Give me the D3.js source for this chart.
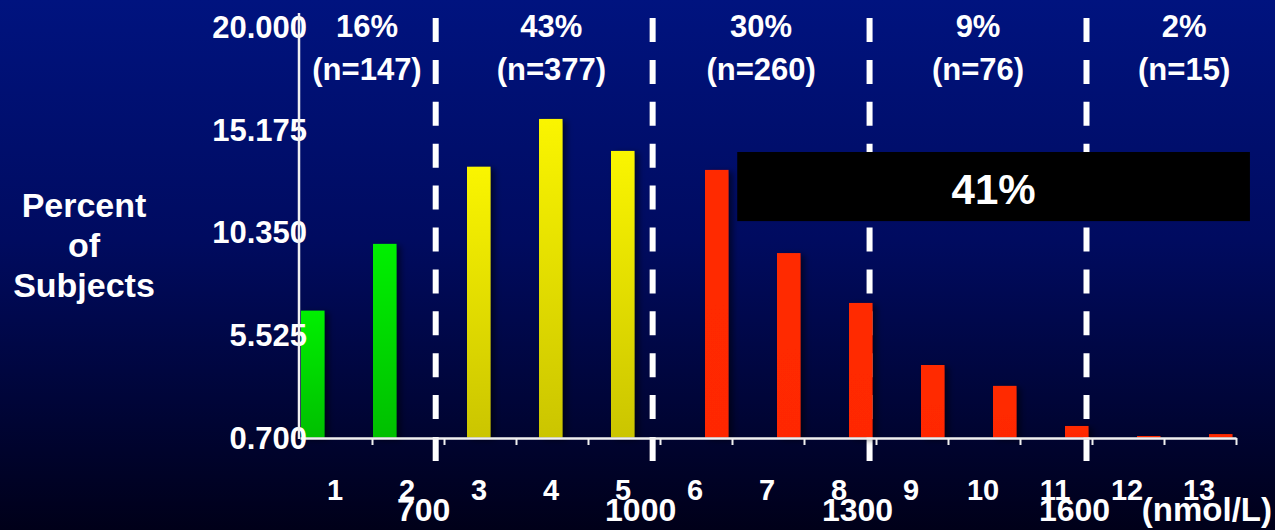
<!DOCTYPE html>
<html>
<head>
<meta charset="utf-8">
<script src="https://cdn.jsdelivr.net/npm/d3@7"></script>
<style>
  html, body { margin: 0; padding: 0; background: #000018; }
  svg { display: block; }
  text { font-family: "Liberation Sans", Arial, sans-serif; font-weight: bold; fill: #ffffff; }
</style>
</head>
<body>
<div id="chart"></div>
<script>
// ---------- data ----------
const categories = ["1","2","3","4","5","6","7","8","9","10","11","12","13"];
const seriesKeys = ["low","mid","high"];
const lowCats  = ["1","2"];
const lowValues = [6.65, 9.78];
const midCats  = ["3","4","5"];
const midValues = [13.40, 15.64, 14.14];
const highCats = ["6","7","8","9","10","11","12","13"];
const highValues = [13.25, 9.35, 7.01, 4.10, 3.12, 1.24, 0.77, 0.86];
const yTicks = [0.7, 5.525, 10.35, 15.175, 20.0];
const thresholds = [700, 1000, 1300, 1600];
const groupPct = ["16%","43%","30%","9%","2%"];
const groupN = ["(n=147)","(n=377)","(n=260)","(n=76)","(n=15)"];
const groupLabelConc = [605, 860, 1150, 1450, 1735];
const boxConc = [1117, 1826];
const boxVal = [10.85, 14.09];
const boxLabel = "41%";
const unitLabel = "(nmol/L)";
const yLabelLines = ["Percent","of","Subjects"];

// ---------- layout ----------
const W = 1275, H = 530;
const svg = d3.select("#chart").append("svg").attr("width", W).attr("height", H);
const defs = svg.append("defs");

const bg = defs.append("linearGradient").attr("id","bg").attr("x1",0).attr("y1",0).attr("x2",0).attr("y2",1);
bg.append("stop").attr("offset","0%").attr("stop-color","#00137f");
bg.append("stop").attr("offset","45%").attr("stop-color","#000b60");
bg.append("stop").attr("offset","100%").attr("stop-color","#000019");

function vgrad(id, top, bottom) {
  const g = defs.append("linearGradient").attr("id", id).attr("x1",0).attr("y1",0).attr("x2",0).attr("y2",1);
  g.append("stop").attr("offset","0%").attr("stop-color", top);
  g.append("stop").attr("offset","100%").attr("stop-color", bottom);
}
vgrad("gLow", "#00f000", "#00bf00");
vgrad("gMid", "#faf500", "#cbc500");
vgrad("gHigh", "#ff2a00", "#ff2800");

const shadow = defs.append("filter").attr("id","shadow").attr("x","-50%").attr("y","-10%").attr("width","200%").attr("height","130%");
shadow.append("feDropShadow").attr("dx",4).attr("dy",2).attr("stdDeviation",3)
  .attr("flood-color","#000000").attr("flood-opacity",0.55);

svg.append("rect").attr("width", W).attr("height", H).attr("fill", "url(#bg)");

// ---------- scales ----------
const x = d3.scaleBand().domain(categories).range([300, 1236]).padding(0);
const x1 = d3.scaleBand().domain(seriesKeys).range([1, 67]).padding(0);
const y = d3.scaleLinear().domain([0.7, 20]).range([437.5, 26]);
const xConc = d3.scaleLinear().domain([700, 1600]).range([435.7, 1086.5]);
const xIdx = d3.scaleLinear().domain([0, categories.length]).range([300, 1236]);
const fill = d3.scaleOrdinal().domain(seriesKeys).range(["url(#gLow)","url(#gMid)","url(#gHigh)"]);

const barData = [
  ...lowCats.map((c,i) => ({cat:c, key:"low", v:lowValues[i]})),
  ...midCats.map((c,i) => ({cat:c, key:"mid", v:midValues[i]})),
  ...highCats.map((c,i) => ({cat:c, key:"high", v:highValues[i]}))
];

// ---------- dashed threshold lines ----------
svg.append("g").selectAll("line").data(thresholds).join("line")
  .attr("x1", d => xConc(d)).attr("x2", d => xConc(d))
  .attr("y1", 18).attr("y2", 462)
  .attr("stroke", "#ffffff").attr("stroke-width", 6)
  .attr("stroke-dasharray", "24,17.9");

// ---------- bars ----------
svg.append("g").selectAll("rect").data(barData).join("rect")
  .attr("x", d => x(d.cat) + x1(d.key))
  .attr("width", x1.bandwidth() + 1.5)
  .attr("y", d => y(d.v))
  .attr("height", d => y(0.7) - y(d.v))
  .attr("fill", d => fill(d.key))
  .attr("filter", "url(#shadow)");

// ---------- annotation box ----------
svg.append("rect")
  .attr("x", xConc(boxConc[0])).attr("width", xConc(boxConc[1]) - xConc(boxConc[0]))
  .attr("y", y(boxVal[1])).attr("height", y(boxVal[0]) - y(boxVal[1]))
  .attr("fill", "#000000");
svg.append("text")
  .attr("x", (xConc(boxConc[0]) + xConc(boxConc[1])) / 2)
  .attr("y", 204).attr("text-anchor", "middle")
  .style("font-size", "42px").text(boxLabel);

// ---------- x axis (baseline + ticks at band edges) ----------
const xAxisG = svg.append("g").attr("transform", "translate(0,438)")
  .call(d3.axisBottom(xIdx).tickValues(d3.range(1, categories.length + 1)).tickSize(7).tickSizeOuter(0).tickFormat(""));
xAxisG.select(".domain").attr("stroke", "#f0f0f0").attr("stroke-width", 2.5);
xAxisG.selectAll(".tick line").attr("stroke", "#f0f0f0").attr("stroke-width", 2);

const catAxisG = svg.append("g").attr("transform", "translate(-1,438)")
  .call(d3.axisBottom(x).tickSize(0).tickPadding(41.5));
catAxisG.select(".domain").remove();
catAxisG.selectAll("text").attr("fill", "#ffffff")
  .style("font-size", "29px").style("font-family", "'Liberation Sans', Arial, sans-serif").style("font-weight", "bold");

// threshold labels
svg.append("g").selectAll("text").data(thresholds).join("text")
  .attr("x", d => xConc(d) - 12).attr("y", 521)
  .attr("text-anchor", "middle").style("font-size", "32px").text(d => d);
svg.append("text").attr("x", 1272).attr("y", 521).attr("text-anchor", "end")
  .style("font-size", "33px").text(unitLabel);

// ---------- y axis ----------
const yAxisG = svg.append("g").attr("transform", "translate(300,0)")
  .call(d3.axisLeft(y).tickValues(yTicks).tickSize(0).tickPadding(-7).tickFormat(d3.format(".3f")));
yAxisG.select(".domain").remove();
yAxisG.selectAll("text").attr("fill", "#ffffff").attr("dy", "0.36em")
  .style("font-size", "31px").style("font-family", "'Liberation Sans', Arial, sans-serif").style("font-weight", "bold");
svg.append("line").attr("x1", 299).attr("x2", 299).attr("y1", 13).attr("y2", y(0.7) + 1.5)
  .attr("stroke", "#f0f0f0").attr("stroke-width", 2.5);

// y title
svg.append("g").selectAll("text").data(yLabelLines).join("text")
  .attr("x", 84).attr("y", (d, i) => 217 + i * 40)
  .attr("text-anchor", "middle").style("font-size", "34px").text(d => d);

// ---------- group labels ----------
const gl = svg.append("g").selectAll("g").data(groupPct).join("g");
gl.append("text").attr("x", (d, i) => xConc(groupLabelConc[i])).attr("y", 37)
  .attr("text-anchor", "middle").style("font-size", "31px").text(d => d);
gl.append("text").attr("x", (d, i) => xConc(groupLabelConc[i])).attr("y", 80)
  .attr("text-anchor", "middle").style("font-size", "31px").text((d, i) => groupN[i]);
</script>
</body>
</html>
